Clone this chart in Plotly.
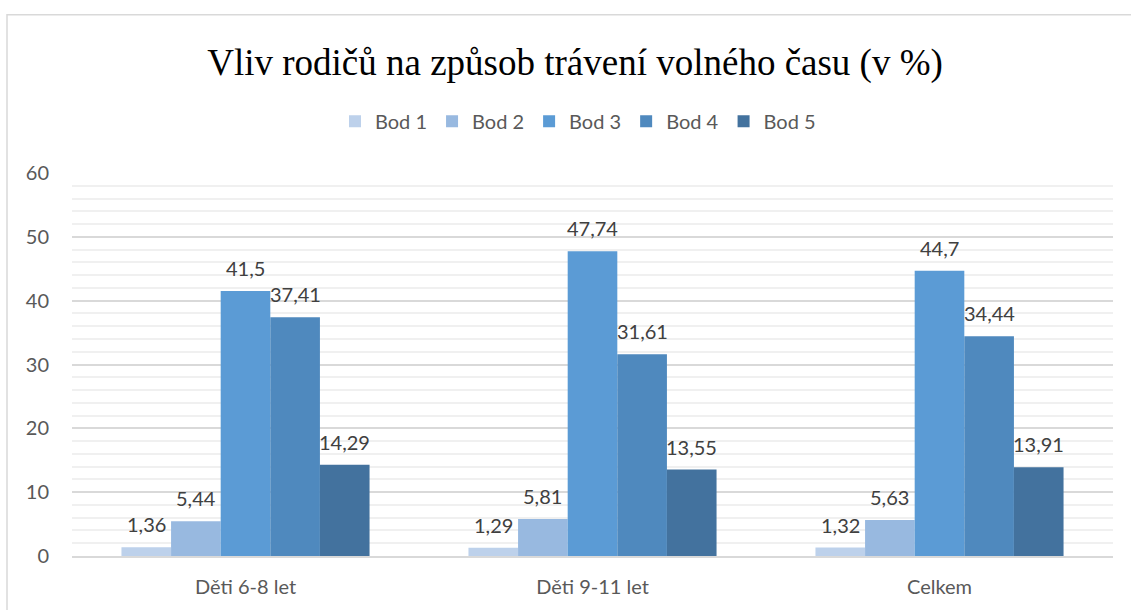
import plotly.graph_objects as go

categories = ["Děti 6-8 let", "Děti 9-11 let", "Celkem"]
series_names = ["Bod 1", "Bod 2", "Bod 3", "Bod 4", "Bod 5"]
bod1 = [1.36, 1.29, 1.32]
bod2 = [5.44, 5.81, 5.63]
bod3 = [41.5, 47.74, 44.7]
bod4 = [37.41, 31.61, 34.44]
bod5 = [14.29, 13.55, 13.91]
colors = ["#BDD1EB", "#98B9E0", "#5B9BD5", "#4F89BE", "#43729E"]

series_values = [bod1, bod2, bod3, bod4, bod5]

FONT = "Lato, Open Sans, sans-serif"

W, H = 1131, 610
L, R, T, B = 72, 18, 173, 52
pw = W - L - R
ph = H - T - B
BARGAP = 0.285
n = len(series_names)
bw = pw / len(categories) * (1 - BARGAP) / n

def px_x(p):
    return (p - L) / pw

def px_y(p):
    return (H - B - p) / ph

fig = go.Figure()
for i, (name, vals, col) in enumerate(zip(series_names, series_values, colors)):
    fig.add_trace(go.Bar(
        name=name, x=categories, y=vals,
        marker=dict(color=col, line=dict(width=0)),
    ))
    for c, v in zip(categories, vals):
        fig.add_annotation(x=c, y=v, xref="x", yref="y",
                           text=str(v).replace(".", ","), showarrow=False,
                           xanchor="center", yanchor="bottom",
                           xshift=(i - (n - 1) / 2) * bw, yshift=9,
                           font=dict(family=FONT, size=20, color="#404040"))

fig.update_layout(
    width=W, height=H,
    margin=dict(l=L, r=R, t=T, b=B),
    paper_bgcolor="white", plot_bgcolor="white",
    barmode="group", bargap=BARGAP, bargroupgap=0,
    title=dict(text="Vliv rodičů na způsob trávení volného času (v %)",
               x=575 / W, xanchor="center", y=1 - 62 / H, yanchor="middle",
               font=dict(family="Liberation Serif, Times New Roman, serif", size=37, color="#000000")),
    legend=dict(orientation="h", x=px_x(578), xanchor="center", y=px_y(121), yanchor="middle",
                font=dict(family=FONT, size=20, color="#595959"),
                itemwidth=30, traceorder="normal"),
    font=dict(family=FONT, size=20, color="#595959"),
    showlegend=True,
)
fig.update_xaxes(showgrid=False, showline=True, linecolor="#D9D9D9", linewidth=1.5,
                 tickfont=dict(size=20, color="#595959"), ticks="", ticklabelstandoff=12)
fig.update_yaxes(range=[0, 60], dtick=10, showgrid=True, gridcolor="#D9D9D9", gridwidth=1.5,
                 zeroline=False, showline=False, ticks="",
                 tickfont=dict(size=20, color="#595959"), ticklabelstandoff=22,
                 minor=dict(dtick=2, showgrid=True, gridcolor="#F0F0F0", gridwidth=1.5))

# chart border (left and top visible)
fig.add_shape(type="rect", xref="paper", yref="paper",
              x0=px_x(7), x1=px_x(1140), y0=px_y(640), y1=px_y(14),
              line=dict(color="#D9D9D9", width=1.5), fillcolor="rgba(0,0,0,0)", layer="below")

fig.write_html("out.html", config={"displayModeBar": False},
               post_script="document.body.style.margin='0';")
